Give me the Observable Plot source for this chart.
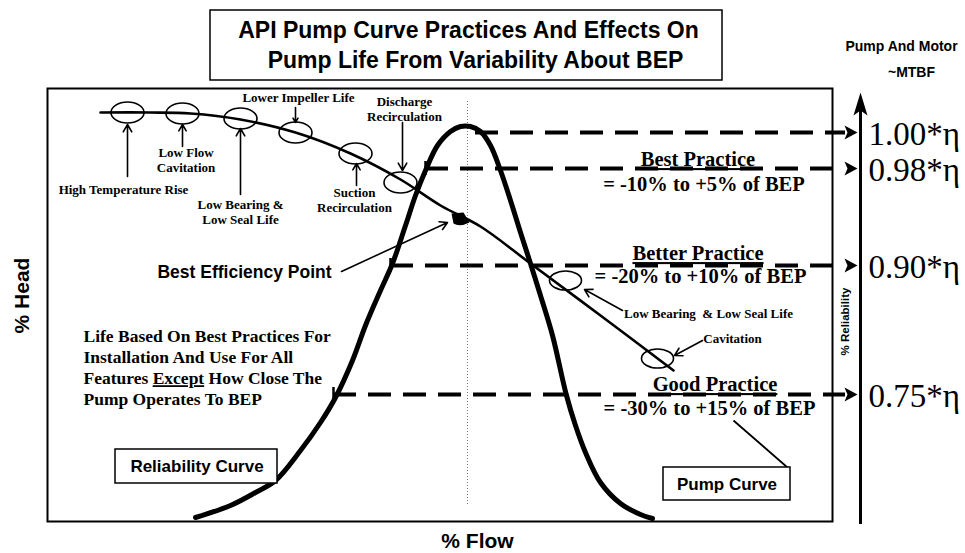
<!DOCTYPE html>
<html>
<head>
<meta charset="utf-8">
<script src="https://cdn.jsdelivr.net/npm/d3@7"></script>
<script src="https://cdn.jsdelivr.net/npm/@observablehq/plot@0.6"></script>
<style>
html,body{margin:0;padding:0;background:#fff;}
#chart svg{display:block;}
</style>
</head>
<body>
<div id="chart"></div>
<script>
// ===== Data (x: % flow units, y: % head / reliability units) =====
const reliabilityFlow  = [29.6,36.6,41.6,45.6,50.6,54.6,57.6,61,63.6,66.6,69,71.6,73.6,75.6,78,80.6,82.6,84.6,86.6,88.6,90.6,92.6,94.6,96.6,98.6,101,103.8,105.6,107.6,110.6,114.6,118.6,121];
const reliabilityValue = [0.8,3.2,5.8,8.2,14.2,19.8,24.8,32.2,39.2,46.2,51.6,59.2,65.2,70.2,75.2,78,79,79,78,75.2,70.2,64.2,57.8,51.6,45.2,37.2,25.2,19.2,13.8,7.8,3.6,1.4,0.6];

const pumpFlow = [10.6,20.6,28.6,38.6,49.6,60.6,70.6,78.6,86.6,96.6,110.6,125.2];
const pumpHead = [81.8,81.8,81.6,80.4,77.8,73.6,68.4,63.2,59,51.6,41.2,30.2];

const bepFlow = 84;
const bepPoint = [82.4, 60.6];

const etaLabels    = ["1.00*η", "0.98*η", "0.90*η", "0.75*η"];
const etaLevel     = [77.8, 70.6, 51.2, 25.4];
const etaStartFlow = [85.6, 75.6, 68.6, 57.2];

const practiceNames  = ["Best Practice", "Better Practice", "Good Practice"];
const practiceRanges = ["= -10% to +5% of BEP", "= -20% to +10% of BEP", "= -30% to +15% of BEP"];
const practiceNameXY  = [[130.1, 72.4], [130.1, 53.6], [133.5, 27.4]];
const practiceRangeXY = [[131.3, 67.4], [130.6, 49.0], [132.4, 22.6]];

// problem zones marked on the pump curve
const concernFlow = [16, 27, 38.6, 49.6, 61.6, 70.6, 103.6, 122];
const concernHead = [81.8, 81.6, 80.6, 77.8, 73.6, 67.8, 48.2, 32.6];

const concernLabels = ["High Temperature Rise", "Low Flow\nCavitation", "Low Bearing &\nLow Seal Life", "Lower Impeller Life", "Suction\nRecirculation", "Discharge\nRecirculation", "Low Bearing  & Low Seal Life", "Cavitation"];
const concernLabelXY = [[15.2, 66.4], [27.7, 72.3], [38.6, 62.0], [50.2, 84.8], [61.4, 64.3], [71.4, 82.5], [132.2, 41.6], [137, 36.6]];
const concernArrowFrom = [[16, 69.0], [27, 75.0], [38.6, 65.4], [49.6, 82.8], [61.8, 67.2], [71, 79.8], [115, 42.2], [131, 36.2]];
const concernArrowTo   = [[16, 79.4], [27, 79.4], [38.6, 78.6], [49.6, 79.8], [61.8, 71.6], [71, 70.2], [107.4, 46.4], [125.4, 33.2]];

const noteLines = "Life Based On Best Practices For\nInstallation And Use For All\nFeatures Except How Close The\nPump Operates To BEP";

// ===== Tables built from the arrays =====
const reliabilityCurve = reliabilityFlow.map((x, i) => ({x, y: reliabilityValue[i]}));
const pumpCurve = pumpFlow.map((x, i) => ({x, y: pumpHead[i]}));
const levels = etaLabels.map((label, i) => ({label, y: etaLevel[i], start: etaStartFlow[i]}));
const concerns = concernFlow.map((x, i) => ({x, y: concernHead[i]}));
const notes = concernLabels.map((label, i) => ({label, x: concernLabelXY[i][0], y: concernLabelXY[i][1]}));
const pointers = concernArrowFrom.map((f, i) => ({x1: f[0], y1: f[1], x2: concernArrowTo[i][0], y2: concernArrowTo[i][1]}));
pointers.push({x1: 58.8, y1: 50.0, x2: 80.0, y2: 59.8}); // Best Efficiency Point
const practiceTitles = practiceNames.map((label, i) => ({label, x: practiceNameXY[i][0], y: practiceNameXY[i][1]}));
const practiceSubs = practiceRanges.map((label, i) => ({label, x: practiceRangeXY[i][0], y: practiceRangeXY[i][1]}));

// ===== Symbols =====
const ellipse = (rx, ry) => ({draw(c) {
  const k = 0.5523;
  c.moveTo(rx, 0);
  c.bezierCurveTo(rx, ry * k, rx * k, ry, 0, ry);
  c.bezierCurveTo(-rx * k, ry, -rx, ry * k, -rx, 0);
  c.bezierCurveTo(-rx, -ry * k, -rx * k, -ry, 0, -ry);
  c.bezierCurveTo(rx * k, -ry, rx, -ry * k, rx, 0);
  c.closePath();
}});
const rightHead = {draw(c) { c.moveTo(0, 0); c.lineTo(-13, -7); c.lineTo(-10, 0); c.lineTo(-13, 7); c.closePath(); }};
const upHead = {draw(c) { c.moveTo(0, 0); c.lineTo(7, 23); c.lineTo(0, 18); c.lineTo(-7, 23); c.closePath(); }};
const wedge = {draw(c) { c.moveTo(-8, -5); c.lineTo(4, -6); c.lineTo(10, 4); c.quadraticCurveTo(0, 9, -6, 5); c.closePath(); }};

const SERIF = "'Liberation Serif', 'Times New Roman', serif";
const SANS = "'Liberation Sans', Arial, sans-serif";

const chart = Plot.plot({
  width: 965,
  height: 553,
  marginLeft: 47,
  marginRight: 133,
  marginTop: 88,
  marginBottom: 32,
  x: {domain: [0, 157], axis: null},
  y: {domain: [0, 86.6], axis: null},
  style: {background: "white", color: "black"},
  marks: [
    // boxes
    Plot.rect([{x1: 32.6, x2: 135, y1: 88.2, y2: 102.2}], {x1: "x1", x2: "x2", y1: "y1", y2: "y2", fill: "white", stroke: "black", strokeWidth: 1.5}),
    Plot.frame({stroke: "black", strokeWidth: 2}),
    // BEP guide
    Plot.ruleX([bepFlow], {y1: 3.4, y2: 84.2, stroke: "#777", strokeWidth: 1, strokeDasharray: "1,2"}),
    // dashed reliability levels
    Plot.ruleY(levels, {y: "y", x1: "start", x2: 159.6, stroke: "black", strokeWidth: 4, strokeDasharray: "23,12"}),
    Plot.ruleX(levels.slice(1), {x: "start", y1: d => d.y - 1.4, y2: d => d.y + 1.4, stroke: "black", strokeWidth: 2.5}),
    Plot.dot(levels, {x: 162, y: "y", symbol: rightHead, fill: "black", stroke: "none"}),
    // right reliability axis
    Plot.ruleX([162.6], {y1: -0.6, y2: 82.5, stroke: "black", strokeWidth: 3}),
    Plot.dot([0], {x: 162.6, y: 85.8, symbol: upHead, fill: "black", stroke: "none"}),
    // curves
    Plot.line(reliabilityCurve, {x: "x", y: "y", curve: "catmull-rom", stroke: "black", strokeWidth: 5, strokeLinecap: "round"}),
    Plot.line(pumpCurve, {x: "x", y: "y", curve: "catmull-rom", stroke: "black", strokeWidth: 2.6}),
    Plot.dot(concerns.slice(0, 6), {x: "x", y: "y", symbol: ellipse(16.5, 10.5), fill: "none", stroke: "black", strokeWidth: 1.6}),
    Plot.dot(concerns.slice(6), {x: "x", y: "y", symbol: ellipse(16, 9.5), fill: "none", stroke: "black", strokeWidth: 1.6}),
    Plot.dot([0], {x: bepPoint[0], y: bepPoint[1], symbol: wedge, fill: "black", stroke: "none"}),
    // pointers
    Plot.arrow(pointers, {x1: "x1", y1: "y1", x2: "x2", y2: "y2", stroke: "black", strokeWidth: 1.6, headLength: 8}),
    Plot.link([0], {x1: 137.2, y1: 20.2, x2: 148, y2: 10.8, stroke: "black", strokeWidth: 1.8}),
    // label boxes
    Plot.rect([{x1: 13.6, x2: 46, y1: 7.6, y2: 14.4}, {x1: 123.2, x2: 148.6, y1: 4.2, y2: 10.8}], {x1: "x1", x2: "x2", y1: "y1", y2: "y2", fill: "white", stroke: "black", strokeWidth: 1.5}),
    Plot.text(["Reliability Curve"], {x: 29.9, y: 11, text: d => d, fontFamily: SANS, fontWeight: "bold", fontSize: 17}),
    Plot.text(["Pump Curve"], {x: 135.9, y: 7.4, text: d => d, fontFamily: SANS, fontWeight: "bold", fontSize: 17}),
    // title
    Plot.text(["API Pump Curve Practices And Effects On"], {x: 84.2, y: 98.2, text: d => d, fontFamily: SANS, fontWeight: "bold", fontSize: 23}),
    Plot.text(["Pump Life From Variability About BEP"], {x: 85.6, y: 92.2, text: d => d, fontFamily: SANS, fontWeight: "bold", fontSize: 23}),
    // axis titles
    Plot.text(["% Head"], {x: -5, y: 45.2, text: d => d, rotate: -90, fontFamily: SANS, fontWeight: "bold", fontSize: 21}),
    Plot.text(["% Flow"], {x: 86, y: -4, text: d => d, fontFamily: SANS, fontWeight: "bold", fontSize: 21}),
    Plot.text(["Pump And Motor"], {x: 170.8, y: 95, text: d => d, fontFamily: SANS, fontWeight: "bold", fontSize: 14}),
    Plot.text(["~MTBF"], {x: 172.8, y: 89.8, text: d => d, fontFamily: SANS, fontWeight: "bold", fontSize: 14}),
    Plot.text(["% Reliability"], {x: 159.6, y: 40, text: d => d, rotate: -90, fontFamily: SANS, fontWeight: "bold", fontSize: 11.5}),
    Plot.text(["Best Efficiency Point"], {x: 39.4, y: 49.8, text: d => d, fontFamily: SANS, fontWeight: "bold", fontSize: 17.5}),
    // eta labels
    Plot.text(levels, {x: 164.2, y: d => d.y - 0.4, text: "label", textAnchor: "start", fontFamily: SERIF, fontSize: 33}),
    // practice labels
    Plot.text(practiceTitles, {x: "x", y: "y", text: "label", fontFamily: SERIF, fontWeight: "bold", fontSize: 20.5}),
    Plot.text(practiceSubs, {x: "x", y: "y", text: "label", fontFamily: SERIF, fontWeight: "bold", fontSize: 20.5}),
    // concern labels
    Plot.text(notes, {x: "x", y: "y", text: "label", fontFamily: SERIF, fontWeight: "bold", fontSize: 13, lineHeight: 1.15}),
    // note paragraph
    Plot.text([noteLines], {x: 7.2, y: 30.9, text: d => d, textAnchor: "start", fontFamily: SERIF, fontWeight: "bold", fontSize: 17.5, lineHeight: 1.2})
  ]
});

document.getElementById("chart").append(chart);

// underline practice names and the word "Except"
const underlined = new Set(practiceNames);
d3.select(chart).selectAll("text").filter(function() { return underlined.has(this.textContent); })
  .style("text-decoration", "underline");
d3.select(chart).selectAll("tspan").filter(function() { return this.textContent === "Features Except How Close The"; })
  .each(function() {
    const t = d3.select(this);
    t.text(null);
    t.append("tspan").text("Features ");
    t.append("tspan").style("text-decoration", "underline").text("Except");
    t.append("tspan").text(" How Close The");
  });
</script>
</body>
</html>
